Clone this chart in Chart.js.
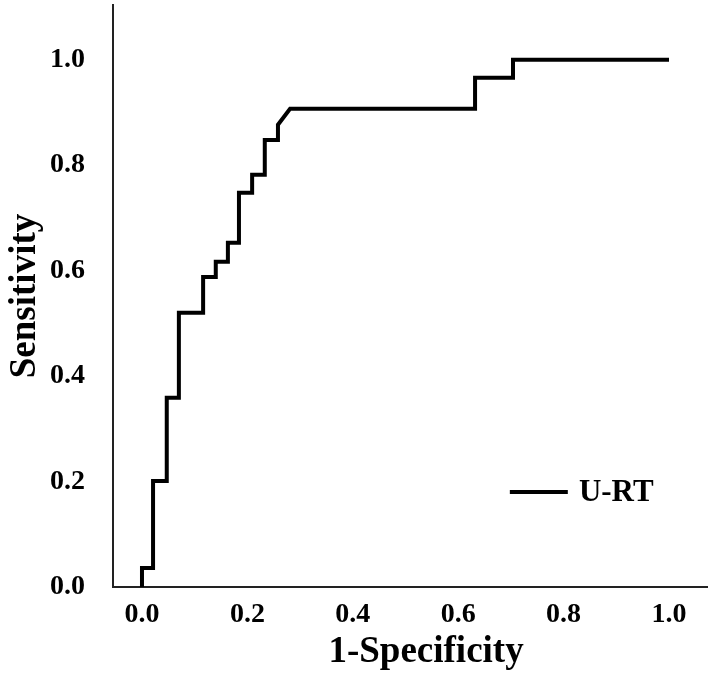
<!DOCTYPE html>
<html>
<head>
<meta charset="utf-8">
<script src="https://cdn.jsdelivr.net/npm/chart.js@4/dist/chart.umd.min.js"></script>
<style>
    html, body { margin: 0; padding: 0; background: #fff; }
    #wrap { width: 708px; height: 676px; }
</style>
</head>
<body>
<div id="wrap"><canvas id="rocChart" width="708" height="676"></canvas></div>
<script>
// ROC curve corners
const fpr = [0, 0, 0.021, 0.021, 0.047, 0.047, 0.070, 0.070, 0.116, 0.116, 0.140, 0.140, 0.163, 0.163,
    0.184, 0.184, 0.209, 0.209, 0.233, 0.233, 0.258, 0.258, 0.281, 0.632, 0.632, 0.704, 0.704, 1.0];
const tpr = [0, 0.036, 0.036, 0.201, 0.201, 0.359, 0.359, 0.520, 0.520, 0.588, 0.588, 0.617, 0.617, 0.653,
    0.653, 0.748, 0.748, 0.782, 0.782, 0.848, 0.848, 0.877, 0.907, 0.907, 0.966, 0.966, 1.0, 1.0];
const seriesName = 'U-RT';
const xTitle = '1-Specificity';
const yTitle = 'Sensitivity';
const xTicks = [0, 0.2, 0.4, 0.6, 0.8, 1.0];
const yTicks = [0, 0.2, 0.4, 0.6, 0.8, 1.0];

const serif = "'Liberation Serif', 'Times New Roman', serif";

// legend inside the plot (bottom right) and the x axis title, which sits a bit right of centre
const extras = {
    id: 'extras',
    afterDraw(chart) {
        const ctx = chart.ctx;
        const x = chart.scales.x;
        const y = chart.scales.y;
        const ds = chart.data.datasets[0];
        const yy = y.getPixelForValue(0.18);
        ctx.save();
        ctx.strokeStyle = ds.borderColor;
        ctx.lineWidth = ds.borderWidth;
        ctx.beginPath();
        ctx.moveTo(x.getPixelForValue(0.698), yy);
        ctx.lineTo(x.getPixelForValue(0.808), yy);
        ctx.stroke();
        ctx.fillStyle = '#000';
        ctx.font = 'bold 31px ' + serif;
        ctx.textBaseline = 'middle';
        ctx.fillText(ds.label, x.getPixelForValue(0.829), yy + 1);

        ctx.font = 'bold 37px ' + serif;
        ctx.textAlign = 'center';
        ctx.textBaseline = 'alphabetic';
        ctx.fillText(xTitle, x.getPixelForValue(0.539), chart.height - 14);
        ctx.restore();
    }
};

const ctx = document.getElementById('rocChart').getContext('2d');
const rocChart = new Chart(ctx, {
    type: 'scatter',
    data: {
        datasets: [{
            label: seriesName,
            data: fpr.map((v, i) => ({ x: v, y: tpr[i] })),
            showLine: true,
            borderColor: '#000',
            borderWidth: 4,
            borderJoinStyle: 'miter',
            borderCapStyle: 'butt',
            pointRadius: 0,
            tension: 0
        }]
    },
    options: {
        responsive: false,
        animation: false,
        layout: { padding: { top: 5, right: 0, left: 0, bottom: 0 } },
        plugins: {
            legend: { display: false },
            tooltip: { enabled: false }
        },
        scales: {
            x: {
                type: 'linear',
                min: -0.055,
                max: 1.074,
                afterBuildTicks: s => { s.ticks = xTicks.map(v => ({ value: v })); },
                afterFit: s => { s.height = 89; s.paddingLeft = 0; s.paddingRight = 0; },
                grid: { display: false },
                border: { display: true, color: '#222', width: 2 },
                ticks: {
                    padding: 3,
                    color: '#000',
                    font: { family: serif, size: 28, weight: 'bold' },
                    callback: v => v.toFixed(1)
                },
                title: { display: false }
            },
            y: {
                type: 'linear',
                min: 0,
                max: 1.104,
                afterBuildTicks: s => { s.ticks = yTicks.map(v => ({ value: v })); },
                afterFit: s => { s.width = 113; s.paddingTop = 0; s.paddingBottom = 0; },
                grid: { display: false },
                border: { display: true, color: '#222', width: 2 },
                ticks: {
                    padding: 20,
                    color: '#000',
                    font: { family: serif, size: 28, weight: 'bold' },
                    callback: v => v.toFixed(1)
                },
                title: {
                    display: true,
                    text: yTitle,
                    color: '#000',
                    font: { family: serif, size: 37, weight: 'bold' },
                    padding: { top: 3, bottom: 0 }
                }
            }
        }
    },
    plugins: [extras]
});
</script>
</body>
</html>
